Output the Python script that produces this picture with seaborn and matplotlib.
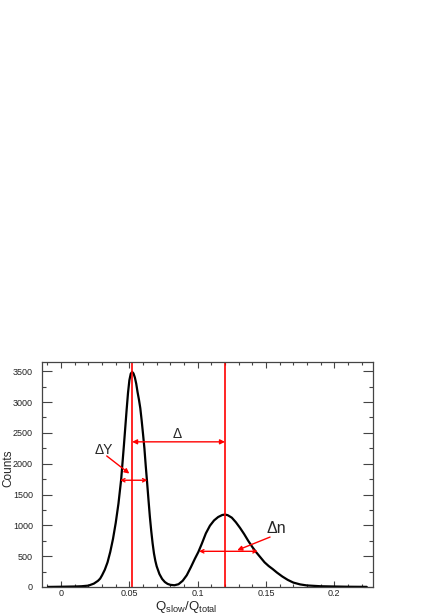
import numpy as np
import pandas as pd
import matplotlib
matplotlib.use('Agg')
import matplotlib.pyplot as plt
from matplotlib.ticker import MultipleLocator, FormatStrFormatter
import seaborn as sns

# Q_slow/Q_total distribution
qratio = [-0.0095, 0.0, 0.01, 0.015, 0.020, 0.024, 0.027, 0.0286, 0.030, 0.032,
          0.034, 0.036, 0.038, 0.040, 0.042, 0.044, 0.046, 0.048, 0.049, 0.050,
          0.051, 0.052, 0.053, 0.054, 0.055, 0.056, 0.057, 0.058, 0.059, 0.060,
          0.061, 0.062, 0.063, 0.064, 0.065, 0.066, 0.067, 0.068, 0.069, 0.070,
          0.072, 0.074, 0.076, 0.078, 0.080, 0.083, 0.086, 0.089, 0.092, 0.095,
          0.098, 0.1005, 0.103, 0.106, 0.109, 0.112, 0.115, 0.118, 0.120, 0.122,
          0.125, 0.128, 0.131, 0.134, 0.137, 0.140, 0.143, 0.146, 0.149, 0.152,
          0.155, 0.158, 0.162, 0.166, 0.170, 0.175, 0.180, 0.190, 0.200, 0.210,
          0.2238]
counts = [1, 4, 8, 12, 22, 55, 100, 136, 190, 280,
          400, 570, 780, 1040, 1353, 1750, 2300, 2880, 3150, 3355,
          3460, 3490, 3465, 3400, 3300, 3160, 3040, 2900, 2700, 2480,
          2250, 1960, 1690, 1410, 1140, 910, 710, 545, 425, 335,
          210, 130, 80, 50, 35, 28, 45, 100, 190, 320,
          460, 568, 700, 870, 995, 1080, 1135, 1168, 1175, 1165,
          1125, 1050, 960, 860, 750, 650, 560, 480, 400, 340,
          290, 235, 170, 115, 72, 42, 25, 12, 8, 4,
          2]

# peak positions (gamma and neutron)
peaks = [0.052, 0.12]

sns.set_style('ticks')
plt.rcParams['font.family'] = ['Liberation Sans', 'DejaVu Sans']
plt.rcParams['mathtext.fontset'] = 'custom'
plt.rcParams['mathtext.rm'] = 'Liberation Sans'

df = pd.DataFrame({'q': qratio, 'n': counts})

fig = plt.figure(figsize=(4.36, 6.16), dpi=100)
ax = fig.add_axes([0.0963, 0.0471, 0.7592, 0.3653])

sns.lineplot(data=df, x='q', y='n', color='black', lw=1.6, ax=ax)

for p in peaks:
    ax.axvline(p, color='red', lw=1.2)

# Delta: separation between peaks
ax.annotate('', xy=(peaks[0], 2355), xytext=(peaks[1], 2355),
            arrowprops=dict(arrowstyle='<|-|>', color='red', lw=1.0,
                            mutation_scale=7, shrinkA=0, shrinkB=0))
ax.text(0.0847, 2480, 'Δ', fontsize=10, ha='center', va='center')

# Delta Y: gamma peak width
ax.annotate('', xy=(0.0432, 1732), xytext=(0.0632, 1732),
            arrowprops=dict(arrowstyle='<->', color='red', lw=1.0,
                            mutation_scale=6, shrinkA=0, shrinkB=0))
ax.annotate('', xy=(0.050, 1840), xytext=(0.0334, 2126),
            arrowprops=dict(arrowstyle='-|>', color='red', lw=1.0,
                            mutation_scale=7, shrinkA=0, shrinkB=0))
ax.text(0.0313, 2230, 'ΔY', fontsize=10, ha='center', va='center')

# Delta n: neutron peak width
ax.annotate('', xy=(0.101, 579), xytext=(0.144, 579),
            arrowprops=dict(arrowstyle='<->', color='red', lw=1.0,
                            mutation_scale=6, shrinkA=0, shrinkB=0))
ax.annotate('', xy=(0.129, 596), xytext=(0.153, 810),
            arrowprops=dict(arrowstyle='-|>', color='red', lw=1.0,
                            mutation_scale=7, shrinkA=0, shrinkB=0))
ax.text(0.1578, 945, 'Δn', fontsize=11.5, ha='center', va='center')

ax.set_xlim(-0.014, 0.2284)
ax.set_ylim(0, 3651)

ax.xaxis.set_major_locator(MultipleLocator(0.05))
ax.xaxis.set_minor_locator(MultipleLocator(0.01))
ax.xaxis.set_major_formatter(FormatStrFormatter('%g'))
ax.yaxis.set_major_locator(MultipleLocator(500))
ax.yaxis.set_minor_locator(MultipleLocator(250))

for s in ax.spines.values():
    s.set_visible(True)
    s.set_color('#444444')
    s.set_linewidth(0.9)

ax.tick_params(axis='x', which='both', direction='in', top=True, bottom=True,
               colors='#444444', labelcolor='#222222', labelsize=6.5, pad=1.2)
ax.tick_params(axis='x', which='major', length=4.5, width=0.8)
ax.tick_params(axis='x', which='minor', length=2.2, width=0.8)
ax.tick_params(axis='y', which='both', direction='in', left=True, right=True,
               colors='#444444', labelcolor='#222222', labelsize=6.5, pad=6.5)
ax.tick_params(axis='y', which='major', length=7.2, width=0.8)
ax.tick_params(axis='y', which='minor', length=3.0, width=0.8)

ax.set_xlabel('')
ax.set_ylabel('')
ax.text((186 - 42) / 331, -(610 - 587) / 225, r'$\mathregular{Q_{slow}/Q_{total}}$',
        transform=ax.transAxes, fontsize=9.5, ha='center', va='baseline')
ax.text((8 - 42) / 331, (587 - 468) / 225, 'Counts', transform=ax.transAxes,
        fontsize=8.5, rotation=90, ha='center', va='center')

fig.savefig('out.png', dpi=100)
